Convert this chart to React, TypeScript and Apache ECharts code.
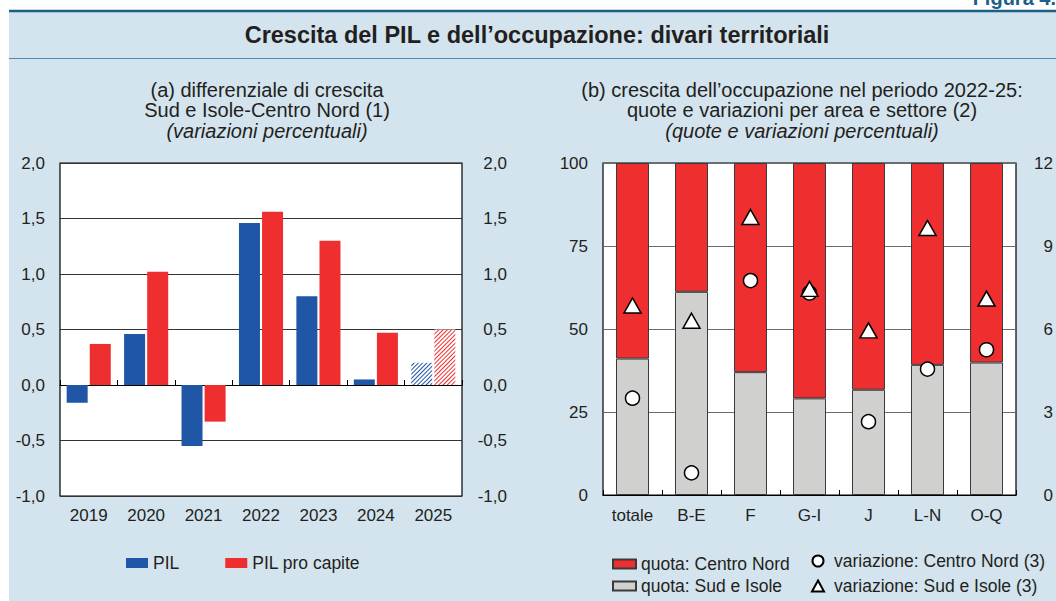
import React, { useEffect, useRef } from 'react';
import * as echarts from 'echarts';

const years = ['2019', '2020', '2021', '2022', '2023', '2024', '2025'];
const pil = [-0.16, 0.46, -0.55, 1.46, 0.8, 0.05, 0.2];
const pilProCapite = [0.37, 1.02, -0.33, 1.56, 1.3, 0.47, 0.5];
const forecastYear = '2025';

const sectors = ['totale', 'B-E', 'F', 'G-I', 'J', 'L-N', 'O-Q'];
const quotaSudIsole = [41.1, 61.2, 37.0, 29.1, 31.7, 39.2, 39.9];
const quotaCentroNord = [58.9, 38.8, 63.0, 70.9, 68.3, 60.8, 60.1];
const variazioneCentroNord = [3.5, 0.8, 7.75, 7.3, 2.65, 4.55, 5.25];
const variazioneSudIsole = [6.85, 6.3, 10.05, 7.45, 5.95, 9.65, 7.1];

const FONT = '"Liberation Sans", Arial, Helvetica, sans-serif';
const TXT = '#231f20';
const BLUE = '#1f56a6';
const RED = '#ee2e2f';
const GREY = '#d0d1cf';
const BG = '#d3e4ee';

const fmt = (v: number) => v.toFixed(1).replace('.', ',');

function hatched(color: string) {
  return {
    color: '#ffffff',
    decal: {
      symbol: 'rect',
      symbolSize: 1,
      color,
      dashArrayX: [1, 0],
      dashArrayY: [1, 2],
      rotation: -Math.PI / 4,
    },
  };
}

function buildOption(): any {
  const tickStyle = { fontSize: 17, color: TXT, fontFamily: FONT };
  const legendText = { fontSize: 17.5, color: TXT, fontFamily: FONT, lineHeight: 18 };
  const sub = (x: number, y: number, text: string, italic = false) => ({
    type: 'text', x, y,
    style: { text, fill: TXT, fontSize: 20, fontStyle: italic ? 'italic' : 'normal', fontFamily: FONT, textAlign: 'center', textVerticalAlign: 'middle' },
  });
  const gridA = { left: 60, right: 594, top: 163, bottom: 105 };
  const gridB = { left: 603, right: 36, top: 163, bottom: 106 };
  return {
    animation: false,
    textStyle: { fontFamily: FONT },
    graphic: [
      { type: 'rect', z: -100, shape: { x: 9, y: 11, width: 1047, height: 590 }, style: { fill: BG } },
      { type: 'line', shape: { x1: 9, y1: 11, x2: 1056, y2: 11 }, style: { stroke: '#1c5f87', lineWidth: 2.5 } },
      { type: 'line', shape: { x1: 9, y1: 58.5, x2: 1056, y2: 58.5 }, style: { stroke: '#4d8db2', lineWidth: 1.2 } },
      {
        type: 'text', x: 1056, y: 8,
        style: { text: 'Figura 4.', fill: '#1c5f87', fontSize: 20, fontWeight: 'bold', fontFamily: FONT, textAlign: 'right', textVerticalAlign: 'bottom' },
      },
      {
        type: 'text', x: 537, y: 35,
        style: { text: 'Crescita del PIL e dell’occupazione: divari territoriali', fill: TXT, fontSize: 23.5, fontWeight: 'bold', fontFamily: FONT, textAlign: 'center', textVerticalAlign: 'middle' },
      },
      sub(267, 90, '(a) differenziale di crescita'),
      sub(267, 110, 'Sud e Isole-Centro Nord (1)'),
      sub(267, 131, '(variazioni percentuali)', true),
      sub(802, 90, '(b) crescita dell’occupazione nel periodo 2022-25:'),
      sub(802, 110, 'quote e variazioni per area e settore (2)'),
      sub(802, 131, '(quote e variazioni percentuali)', true),
    ],
    grid: [
      { ...gridA, show: true, backgroundColor: '#ffffff', borderColor: '#000', borderWidth: 1.2 },
      { ...gridB, show: true, backgroundColor: '#ffffff', borderColor: '#000', borderWidth: 1.2 },
    ],
    legend: [
      {
        left: 126, top: 554, padding: 0, itemWidth: 22, itemHeight: 10, itemGap: 46, icon: 'rect',
        textStyle: legendText,
        data: ['PIL', 'PIL pro capite'],
      },
      {
        left: 612, top: 555, padding: 0, height: 60, orient: 'vertical', itemWidth: 23, itemHeight: 9, itemGap: 4, icon: 'rect',
        textStyle: legendText,
        data: ['quota: Centro Nord', 'quota: Sud e Isole'],
      },
      {
        left: 811, top: 552, padding: 0, height: 60, orient: 'vertical', itemWidth: 12, itemHeight: 11, itemGap: 7,
        textStyle: { ...legendText, padding: [0, 0, 0, 5] },
        data: [
          { name: 'variazione: Centro Nord (3)', icon: 'circle' },
          { name: 'variazione: Sud e Isole (3)', icon: 'triangle' },
        ],
      },
    ],
    xAxis: [
      {
        gridIndex: 0, type: 'category', data: years, position: 'bottom',
        axisLine: { show: false, onZero: false }, axisTick: { show: false },
        axisLabel: { ...tickStyle, margin: 11 },
      },
      {
        gridIndex: 0, type: 'category', data: years, position: 'top',
        axisLine: { show: true, onZero: true, lineStyle: { color: '#000', width: 1.2 } },
        axisTick: { show: true, inside: false, length: 5, lineStyle: { color: '#000', width: 1 } },
        axisLabel: { show: false },
      },
      {
        gridIndex: 1, type: 'category', data: sectors, position: 'bottom',
        axisLine: { show: true, lineStyle: { color: '#000', width: 1.2 } },
        axisTick: { show: true, inside: true, length: 5, lineStyle: { color: '#000', width: 1 } },
        axisLabel: { ...tickStyle, margin: 12 },
      },
    ],
    yAxis: [
      {
        gridIndex: 0, type: 'value', position: 'left', min: -1, max: 2, interval: 0.5,
        axisLine: { show: false }, axisTick: { show: false },
        axisLabel: { ...tickStyle, margin: 15, formatter: fmt },
        splitLine: { show: true, lineStyle: { color: '#333', width: 1 } },
      },
      {
        gridIndex: 0, type: 'value', position: 'right', min: -1, max: 2, interval: 0.5,
        axisLine: { show: false }, axisTick: { show: false },
        axisLabel: { ...tickStyle, margin: 45, align: 'right', formatter: fmt },
        splitLine: { show: false },
      },
      {
        gridIndex: 1, type: 'value', position: 'left', min: 0, max: 100, interval: 25,
        axisLine: { show: false }, axisTick: { show: false },
        axisLabel: { ...tickStyle, margin: 15 },
        splitLine: { show: true, lineStyle: { color: '#6b6b6b', width: 1.2 } },
      },
      {
        gridIndex: 1, type: 'value', position: 'right', min: 0, max: 12, interval: 3,
        axisLine: { show: false }, axisTick: { show: false },
        axisLabel: { ...tickStyle, margin: 37, align: 'right' },
        splitLine: { show: false },
      },
    ],
    series: [
      {
        name: 'PIL', type: 'bar', xAxisIndex: 0, yAxisIndex: 0, barWidth: 21, barGap: '10%',
        itemStyle: { color: BLUE },
        data: pil.map((v, i) => (years[i] === forecastYear ? { value: v, itemStyle: hatched(BLUE) } : v)),
      },
      {
        name: 'PIL pro capite', type: 'bar', xAxisIndex: 0, yAxisIndex: 0, barWidth: 21, barGap: '10%',
        itemStyle: { color: RED },
        data: pilProCapite.map((v, i) => (years[i] === forecastYear ? { value: v, itemStyle: hatched(RED) } : v)),
      },
      {
        name: 'quota: Sud e Isole', type: 'bar', stack: 'quota', xAxisIndex: 2, yAxisIndex: 2, barWidth: 33,
        itemStyle: { color: GREY, borderColor: '#3a3a3a', borderWidth: 1 },
        data: quotaSudIsole,
      },
      {
        name: 'quota: Centro Nord', type: 'bar', stack: 'quota', xAxisIndex: 2, yAxisIndex: 2, barWidth: 33,
        itemStyle: { color: RED, borderColor: '#3a3a3a', borderWidth: 1 },
        data: quotaCentroNord,
      },
      {
        name: 'variazione: Centro Nord (3)', type: 'scatter', xAxisIndex: 2, yAxisIndex: 3,
        symbol: 'circle', symbolSize: 14, z: 5,
        itemStyle: { color: '#ffffff', borderColor: '#000', borderWidth: 1.5, opacity: 1 },
        data: variazioneCentroNord,
      },
      {
        name: 'variazione: Sud e Isole (3)', type: 'scatter', xAxisIndex: 2, yAxisIndex: 3,
        symbol: 'triangle', symbolSize: [17, 15], z: 6,
        itemStyle: { color: '#ffffff', borderColor: '#000', borderWidth: 1.5, opacity: 1 },
        data: variazioneSudIsole,
      },
    ],
  };
}

export default function App() {
  const ref = useRef<HTMLDivElement>(null);
  useEffect(() => {
    document.body.style.margin = '0';
    const chart = echarts.init(ref.current as HTMLDivElement, null, { renderer: 'svg' });
    chart.setOption(buildOption());
    return () => chart.dispose();
  }, []);
  return <div ref={ref} style={{ width: 1056, height: 601, background: '#ffffff' }} />;
}
